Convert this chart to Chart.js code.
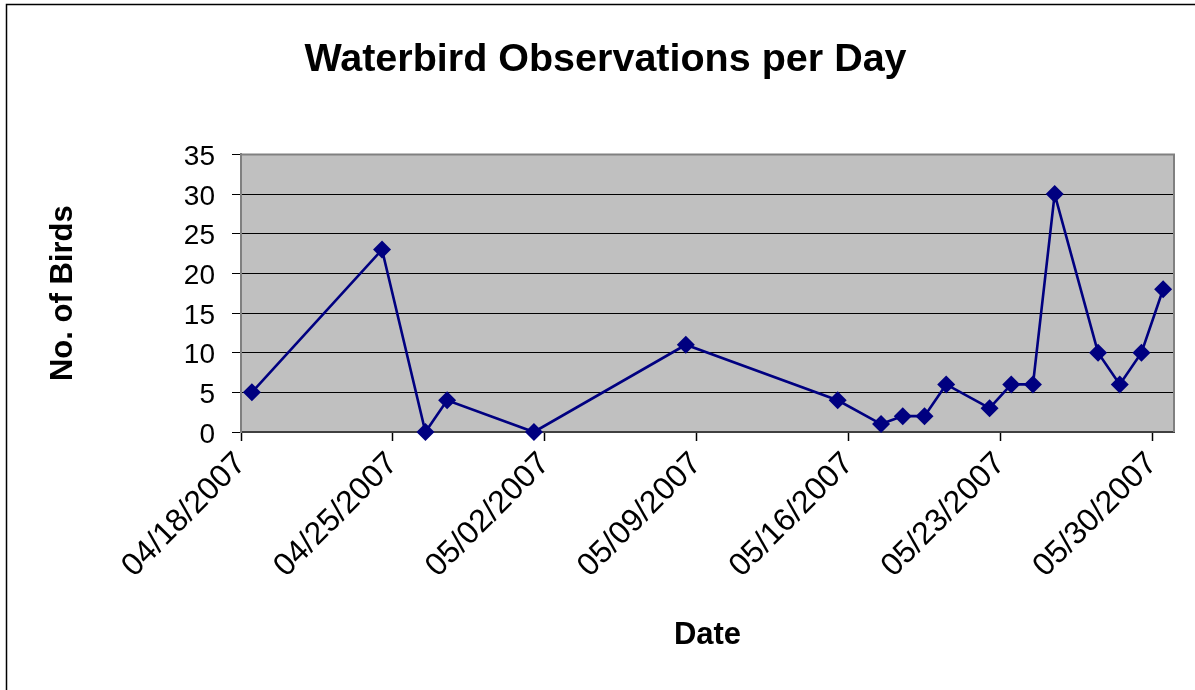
<!DOCTYPE html>
<html>
<head>
<meta charset="utf-8">
<script src="https://cdn.jsdelivr.net/npm/chart.js@4/dist/chart.umd.min.js"></script>
<style>
  html, body { margin: 0; padding: 0; background: #ffffff; }
  #wrap { width: 1195px; height: 690px; position: relative; }
</style>
</head>
<body>
<div id="wrap"><canvas id="c" width="1195" height="690"></canvas></div>
<script>
// ---- data ----
const obsDates = ['04/18/2007','04/24/2007','04/26/2007','04/27/2007','05/01/2007','05/08/2007',
                  '05/15/2007','05/17/2007','05/18/2007','05/19/2007','05/20/2007','05/22/2007',
                  '05/23/2007','05/24/2007','05/25/2007','05/27/2007','05/28/2007','05/29/2007','05/30/2007'];
const birdCounts = [5, 23, 0, 4, 0, 11, 4, 1, 2, 2, 6, 3, 6, 6, 30, 10, 6, 10, 18];
const xTickLabels = ['04/18/2007','04/25/2007','05/02/2007','05/09/2007','05/16/2007','05/23/2007','05/30/2007'];
const yTickValues = [0, 5, 10, 15, 20, 25, 30, 35];
const axisStartDate = '04/18/2007';
const axisDays = 43;

function dayNum(s) {
  const [m, d, y] = s.split('/').map(Number);
  return Date.UTC(y, m - 1, d) / 86400000;
}
const d0 = dayNum(axisStartDate);
// Excel-style date axis: each point sits in the middle of its day cell
const points = obsDates.map((s, i) => ({ x: dayNum(s) - d0 + 0.5, y: birdCounts[i] }));
const xTickPos = xTickLabels.map(s => dayNum(s) - d0);

const FONT = "'Liberation Sans', Arial, sans-serif";

const frame = {
  id: 'frame',
  beforeDraw(chart) {
    const ctx = chart.ctx;
    const a = chart.chartArea;
    ctx.save();
    ctx.fillStyle = '#ffffff';
    ctx.fillRect(0, 0, chart.width, chart.height);
    // outer chart border (partially cropped)
    ctx.strokeStyle = '#000000';
    ctx.lineWidth = 1.5;
    ctx.beginPath();
    ctx.moveTo(6.5, chart.height + 2);
    ctx.lineTo(6.5, 4.5);
    ctx.lineTo(chart.width + 2, 4.5);
    ctx.stroke();
    // plot background
    ctx.fillStyle = '#c0c0c0';
    ctx.fillRect(a.left, a.top, a.right - a.left, a.bottom - a.top);
    ctx.restore();
  },
  beforeDatasetsDraw(chart) {
    const ctx = chart.ctx;
    const a = chart.chartArea;
    ctx.save();
    ctx.strokeStyle = '#808080';
    ctx.lineWidth = 2;
    ctx.beginPath();
    ctx.moveTo(a.left, a.top);
    ctx.lineTo(a.right, a.top);
    ctx.lineTo(a.right, a.bottom);
    ctx.stroke();
    ctx.restore();
  }
};

new Chart(document.getElementById('c'), {
  type: 'line',
  data: {
    datasets: [{
      label: 'Waterbirds',
      data: points,
      borderColor: '#000080',
      backgroundColor: '#000080',
      borderWidth: 2.6,
      pointStyle: 'rectRot',
      pointRadius: 9,
      pointBorderWidth: 0,
      pointBackgroundColor: '#000080',
      tension: 0,
      clip: false
    }]
  },
  plugins: [frame],
  options: {
    responsive: false,
    animation: false,
    events: [],
    layout: { padding: { left: 37, right: 21, top: 0, bottom: 0 } },
    plugins: {
      legend: { display: false },
      tooltip: { enabled: false },
      title: {
        display: true,
        text: 'Waterbird Observations per Day',
        color: '#000000',
        font: { family: FONT, size: 39.5, weight: 'bold' },
        padding: { top: 36, bottom: 71 }
      }
    },
    scales: {
      x: {
        type: 'linear',
        min: 0,
        max: axisDays,
        afterBuildTicks(scale) { scale.ticks = xTickPos.map(v => ({ value: v })); },
        afterFit(scale) { scale.height = 258; },
        ticks: {
          autoSkip: false,
          minRotation: 45,
          maxRotation: 45,
          padding: 4,
          color: '#000000',
          font: { family: FONT, size: 32 },
          callback: (v, i) => xTickLabels[i]
        },
        grid: {
          drawOnChartArea: false,
          drawTicks: true,
          tickLength: 9,
          tickColor: '#000000',
          tickWidth: 1.5
        },
        border: { display: true, color: '#404040', width: 2 },
        title: {
          display: true,
          text: 'Date',
          color: '#000000',
          font: { family: FONT, size: 31, weight: 'bold' },
          padding: { top: 0, bottom: 36 }
        }
      },
      y: {
        min: 0,
        max: 35,
        afterBuildTicks(scale) { scale.ticks = yTickValues.map(v => ({ value: v })); },
        afterFit(scale) { scale.width = 204; },
        ticks: {
          padding: 17,
          labelOffset: 3,
          color: '#000000',
          font: { family: FONT, size: 28 }
        },
        grid: {
          color: (c) => (c.tick && (c.tick.value === 0 || c.tick.value === 35)) ? 'rgba(0,0,0,0)' : '#000000',
          lineWidth: 1,
          drawTicks: true,
          tickLength: 9,
          tickColor: '#000000',
          tickWidth: 1
        },
        border: { display: true, color: '#808080', width: 2 },
        title: {
          display: true,
          text: 'No. of Birds',
          color: '#000000',
          font: { family: FONT, size: 31, weight: 'bold' },
          padding: { top: 8, bottom: 0 }
        }
      }
    }
  }
});
</script>
</body>
</html>
